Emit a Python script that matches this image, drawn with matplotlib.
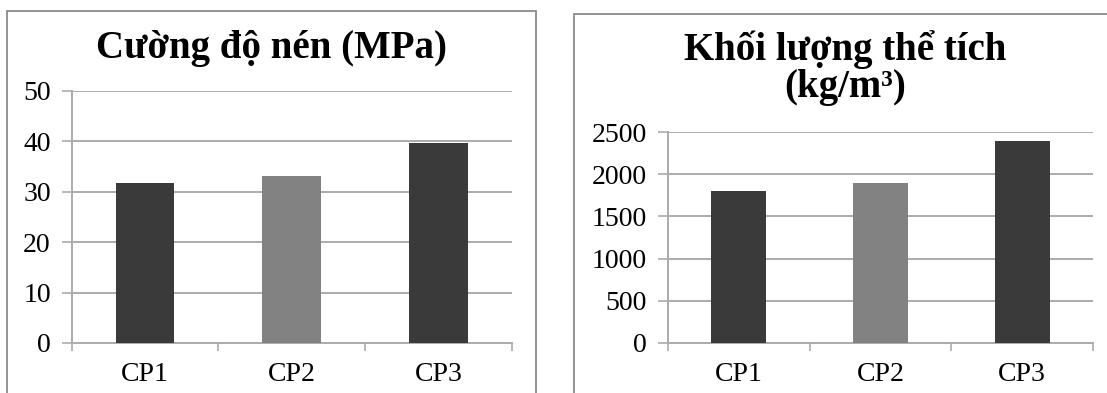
import numpy as np
import matplotlib.pyplot as plt
from matplotlib.patches import Rectangle

plt.rcParams['font.family'] = ['Liberation Serif', 'DejaVu Serif']

categories = ["CP1", "CP2", "CP3"]
strength = [31.7, 33.2, 39.6]
density = [1805, 1900, 2390]
bar_colors = ["#3a3a3a", "#828282", "#3a3a3a"]

GRID = "#ababab"
W, H = 1107, 393


def draw_panel(ax, values, ymax, ystep, bar_width):
    x = np.arange(len(categories)) + 0.5
    ax.bar(x, values, width=bar_width, color=bar_colors, zorder=3)
    ax.set_xlim(0, len(categories))
    ax.set_ylim(0, ymax)
    ax.set_yticks(np.arange(0, ymax + 1, ystep))
    ax.set_xticks(np.arange(len(categories) + 1))
    ax.set_xticklabels([])
    ax.set_xticks(x, minor=True)
    ax.set_xticklabels(categories, minor=True)
    ax.tick_params(axis="x", which="minor", length=0, pad=14, labelsize=20)
    ax.tick_params(axis="x", which="major", length=6, width=1.2, color=GRID, direction="out")
    ax.tick_params(axis="y", length=7, width=1.2, color=GRID, labelsize=20, pad=8)
    ax.yaxis.grid(True, color=GRID, linewidth=1.4, zorder=0)
    for s in ["top", "right"]:
        ax.spines[s].set_visible(False)
    for s in ["left", "bottom"]:
        ax.spines[s].set_color(GRID)
        ax.spines[s].set_linewidth(1.4)
    ax.set_facecolor("none")


def px_axes(left, right, top, bottom):
    return fig.add_axes([left / W, 1 - bottom / H, (right - left) / W, (bottom - top) / H])


fig = plt.figure(figsize=(W / 100, H / 100), dpi=100)

# panel frames
fig.patches.append(Rectangle((6.5 / W, -0.05), (536 - 6.5) / W, 1.05 - 11 / H,
                             transform=fig.transFigure, facecolor="white",
                             edgecolor="#8a8a8a", linewidth=1.3, zorder=-5))
fig.patches.append(Rectangle((574 / W, -0.05), 0.6, 1.05 - 14 / H,
                             transform=fig.transFigure, facecolor="white",
                             edgecolor="#8a8a8a", linewidth=1.3, zorder=-5))

ax1 = px_axes(71.7, 512, 91, 343)
draw_panel(ax1, strength, 50, 10, 0.40)
fig.text(271 / W, 1 - 58 / H, "Cường độ nén (MPa)", ha="center", va="baseline",
         fontsize=28, fontweight="bold")

ax2 = px_axes(668, 1093, 132, 343)
draw_panel(ax2, density, 2500, 500, 0.39)
fig.text(845 / W, 1 - 60 / H, "Khối lượng thể tích", ha="center", va="baseline",
         fontsize=28, fontweight="bold")
fig.text(845 / W, 1 - 97 / H, "(kg/m³)", ha="center", va="baseline",
         fontsize=28, fontweight="bold")

fig.savefig("out.png", dpi=100)
